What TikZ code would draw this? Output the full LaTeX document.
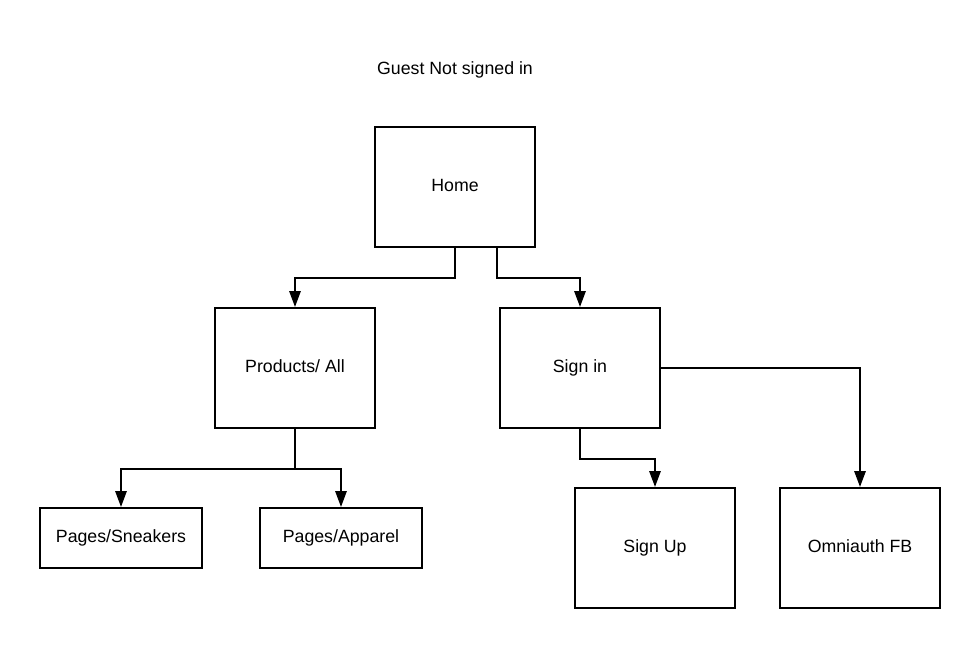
\documentclass[tikz,border=0pt]{standalone}
\usepackage{fontspec}
\setmainfont{Liberation Sans}
\usetikzlibrary{
  arrows.meta,
  positioning
}

\begin{document}
\begin{tikzpicture}[x=0.75pt,y=-0.75pt,>={Triangle[length=12pt,width=8.5pt]},line width=1.5pt,
  page/.style={draw,fill=white,minimum width=120pt,minimum height=90pt,inner sep=0pt,text height=9.6pt,text depth=3.3pt,font=\fontsize{13.3}{16}\selectfont},
  leaf/.style={page,minimum width=121.5pt,minimum height=45pt}]
\useasboundingbox (0,0) rectangle (980,648);
\node[font=\fontsize{13.3}{16}\selectfont,text height=9.6pt,text depth=3.3pt] (title) at (455,70)	{Guest Not signed in};
\node[page] (Home) at (455,187.5)	{Home};
\node[page] (Products) at (295,368)	{Products/ All};
\node[page] (SignIn) at (580,368)	{Sign in};
\node[leaf] (Sneakers) at (121,538)	{Pages/Sneakers};
\node[leaf] (Apparel) at (341,538)	{Pages/Apparel};
\node[page] (SignUp) at (655,548)	{Sign Up};
\node[page] (Omniauth) at (860,548)	{Omniauth FB};

\draw[->]	(Home.south) -- ++(0,30) -| (Products);
\draw[->]	([xshift=31.5pt]Home.south) -- ++(0,30) -| (SignIn);
\draw[->]	(Products.south) -- ++(0,40) -| (Sneakers);
\draw[->]	(Products.south) -- ++(0,40) -| (Apparel);
\draw[->]	(SignIn.south) -- ++(0,30) -| (SignUp);
\draw[->]	(SignIn.east) -| (Omniauth);
\end{tikzpicture}
\end{document}
